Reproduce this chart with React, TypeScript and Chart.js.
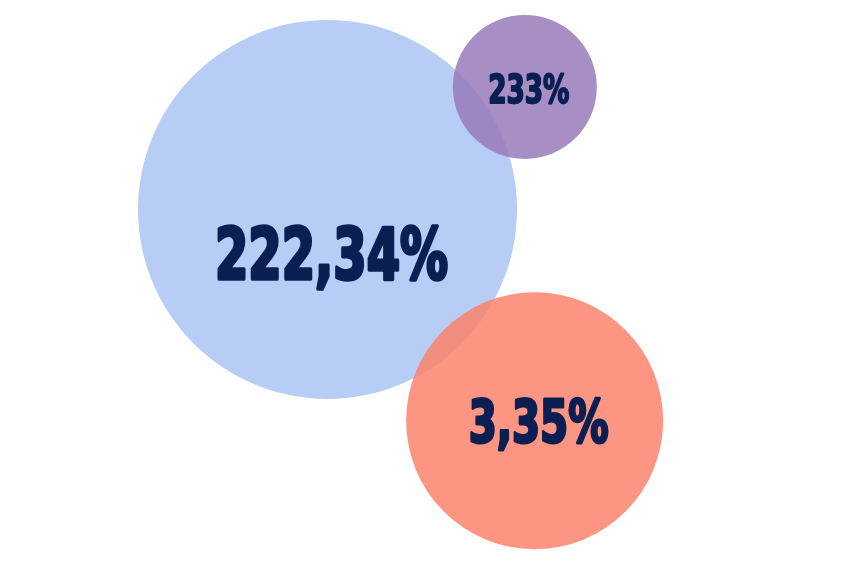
import React, { useEffect, useRef } from "react";
import { Chart, registerables } from "chart.js";

Chart.register(...registerables);

// Data
const categories = ["A", "B", "C"];
const labels = ["222,34%", "233%", "3,35%"];
const xValues = [38.44, 61.6, 62.75];
const yValues = [62.66, 84.5, 25.0];
const bubbleSize = [189.5, 72, 128.5];

const colors = ["rgba(184,205,245,1)", "rgba(153,123,186,0.86)", "rgba(251,131,108,0.86)"];
const fontSizes = [72, 38.5, 59];
const labelOffsetX = [4, 4, 4];
const labelOffsetY = [43, 2, 0];
const labelScaleX = [0.74, 0.76, 0.76];
const drawOrder = [3, 1, 2];

const W = 852;
const H = 561;
const PAD = Math.ceil(Math.max(...bubbleSize));

const labelPlugin = {
  id: "bubbleLabels",
  afterDatasetsDraw(chart: any) {
    const ctx = chart.ctx;
    chart.data.datasets.forEach((ds: any, di: number) => {
      const meta = chart.getDatasetMeta(di);
      meta.data.forEach((el: any) => {
        const { x, y } = el.getProps(["x", "y"], true);
        const size = fontSizes[di];
        ctx.save();
        ctx.translate(x + labelOffsetX[di], y + labelOffsetY[di] + size * 0.3645);
        ctx.scale(labelScaleX[di], 1);
        ctx.font = `bold ${size}px "DejaVu Sans Condensed", "DejaVu Sans", sans-serif`;
        ctx.textAlign = "center";
        ctx.textBaseline = "alphabetic";
        ctx.fillStyle = "#0b1f52";
        ctx.strokeStyle = "#0b1f52";
        ctx.lineWidth = size * 0.05;
        ctx.lineJoin = "round";
        ctx.fillText(labels[di], 0, 0);
        ctx.strokeText(labels[di], 0, 0);
        ctx.restore();
      });
    });
  },
};

export default function App() {
  const ref = useRef<HTMLCanvasElement | null>(null);
  useEffect(() => {
    if (!ref.current) return;
    const chart = new Chart(ref.current, {
      type: "bubble",
      data: {
        datasets: categories.map((c, i) => ({
          label: c,
          data: [{ x: xValues[i], y: yValues[i], r: bubbleSize[i] }],
          backgroundColor: colors[i],
          borderWidth: 0,
          hoverBorderWidth: 0,
          order: drawOrder[i],
          clip: false as any,
        })),
      },
      options: {
        animation: false,
        responsive: false,
        maintainAspectRatio: false,
        layout: { padding: PAD },
        plugins: { legend: { display: false }, tooltip: { enabled: false } },
        scales: {
          x: { type: "linear", min: 0, max: 100, display: false },
          y: { type: "linear", min: 0, max: 100, display: false },
        },
        events: [],
      },
      plugins: [labelPlugin],
    });
    return () => chart.destroy();
  }, []);
  return (
    <div style={{ position: "absolute", left: 0, top: 0, width: W, height: H, overflow: "hidden", background: "#fff" }}>
      <canvas
        ref={ref}
        width={W + 2 * PAD}
        height={H + 2 * PAD}
        style={{ position: "absolute", left: -PAD, top: -PAD, width: W + 2 * PAD, height: H + 2 * PAD, display: "block" }}
      />
    </div>
  );
}
